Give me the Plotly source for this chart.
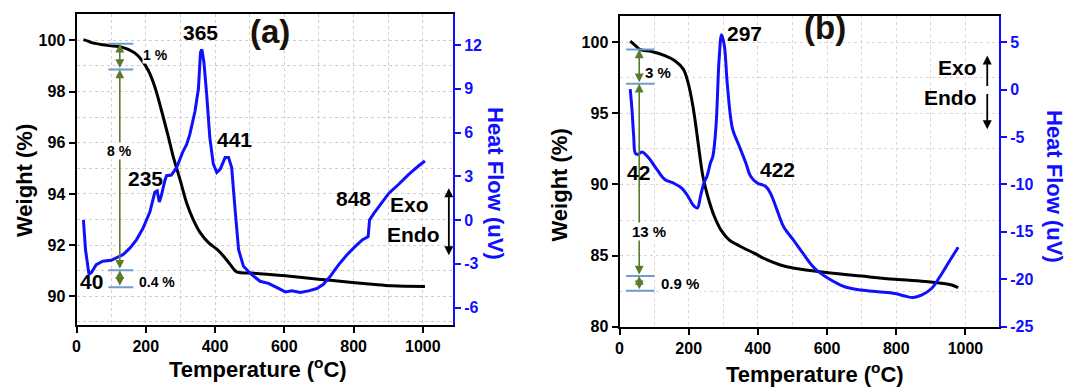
import plotly.graph_objects as go

W, H = 1067, 389

# ---------------- data: panel (a) ----------------
a_temp_w = [20, 33, 47, 76, 115, 144, 168, 187, 207, 226, 245, 265, 279, 299, 318, 337, 357,
            381, 405, 424, 443, 458, 468, 506, 603, 699, 796, 854, 911, 1006]
a_weight = [100.03, 99.97, 99.9, 99.83, 99.77, 99.68, 99.51, 99.25, 98.83, 98.19, 97.28, 96.24,
            95.47, 94.56, 93.65, 93.0, 92.49, 92.1, 91.84, 91.58, 91.26, 91.0, 90.93, 90.91,
            90.8, 90.67, 90.54, 90.47, 90.41, 90.38]
a_temp_h = [20, 26, 36, 43, 57, 76, 100, 115, 134, 154, 173, 192, 212, 226, 233, 239, 245, 255,
            260, 274, 289, 308, 318, 327, 342, 352, 358, 362, 368, 376, 385, 395, 405, 415, 429,
            439, 448, 458, 468, 482, 506, 530, 554, 579, 603, 622, 646, 670, 694, 713, 733, 757,
            781, 805, 825, 842, 846, 858, 882, 902, 931, 960, 988, 1006]
a_heat = [0.0, -2.04, -3.73, -3.6, -3.06, -2.83, -2.76, -2.6, -2.38, -1.93, -1.36, -0.57, 0.56,
          1.9, 2.0, 1.23, 1.68, 2.7, 3.04, 3.08, 3.6, 4.73, 5.18, 5.86, 7.44, 9.0, 11.5, 11.7,
          10.8, 8.57, 5.63, 3.83, 3.26, 3.49, 4.28, 4.28, 3.6, 0.67, -2.04, -3.17, -3.75, -4.2,
          -4.34, -4.64, -4.93, -4.86, -4.97, -4.86, -4.70, -4.41, -3.85, -3.06, -2.38, -1.81,
          -1.36, -1.14, 0.0, 0.44, 1.23, 1.84, 2.47, 3.15, 3.72, 4.05]

# ---------------- data: panel (b) ----------------
b_temp_w = [31, 46, 60, 93, 131, 160, 184, 198, 212, 222, 231, 241, 255, 274, 293, 317, 350,
            389, 427, 465, 506, 603, 699, 796, 892, 931, 960, 979]
b_weight = [100.07, 99.76, 99.48, 99.34, 99.06, 98.7, 98.12, 97.17, 95.53, 93.88, 92.23, 90.58,
            89.17, 87.76, 86.81, 86.11, 85.64, 85.17, 84.69, 84.34, 84.11, 83.8, 83.56, 83.33,
            83.16, 83.05, 82.93, 82.74]
b_temp_h = [31, 36, 41, 46, 53, 65, 84, 108, 131, 155, 179, 198, 212, 225, 234, 244, 253, 263,
            270, 279, 288, 295, 303, 312, 327, 346, 365, 379, 398, 422, 436, 455, 474, 506, 530,
            564, 603, 651, 699, 747, 796, 825, 849, 873, 902, 926, 950, 979]
b_heat = [0.05, -2.06, -4.89, -6.73, -6.83, -6.59, -7.19, -8.42, -9.48, -9.84, -10.37, -11.25,
          -12.13, -12.48, -11.25, -9.84, -9.13, -7.72, -7.01, -3.83, 3.23, 5.78, 4.65, 0.41,
          -4.18, -5.95, -7.72, -9.13, -9.84, -10.19, -10.9, -12.66, -14.43, -16.02, -17.25,
          -18.84, -19.9, -20.79, -21.14, -21.32, -21.5, -21.77, -21.92, -21.67, -20.97, -19.73,
          -18.31, -16.62]

# ---------------- ticks ----------------
x_ticks = [0, 200, 400, 600, 800, 1000]
a_left_ticks = [90, 92, 94, 96, 98, 100]
a_right_ticks = [-6, -3, 0, 3, 6, 9, 12]
b_left_ticks = [80, 85, 90, 95, 100]
b_right_ticks = [-25, -20, -15, -10, -5, 0, 5]

# ---------------- annotations ----------------
a_peak_text = ["40", "235", "365", "441", "848"]
a_peak_x = [42, 200, 358, 455, 801]
a_peak_y = [90.57, 94.62, 100.32, 96.11, 93.83]
b_peak_text = ["42", "297", "422"]
b_peak_x = [56, 362, 458]
b_peak_y = [90.82, 100.59, 91.05]

a_levels = [99.87, 98.86, 91.02, 90.35]
a_level_x = [92, 164]
a_arrow_x = 125
a_step_text = ["1 %", "8 %", "0.4 %"]
a_step_x = [229, 123, 233]
a_step_y = [99.42, 95.66, 90.57]

b_levels = [99.48, 97.08, 83.56, 82.53]
b_level_x = [19, 101]
b_arrow_x = 57
b_step_text = ["3 %", "13 %", "0.9 %"]
b_step_x = [110, 86, 174]
b_step_y = [97.88, 86.7, 83.05]

FONT = "Liberation Sans, Arial, sans-serif"
BLUE = "#1010ff"
GREEN = "#5b7a2c"
STEEL = "#6f9bd0"

# panel pixel boxes
A = dict(x0=76.5, x1=453, y0=14, y1=325)
B = dict(x0=619.5, x1=999, y0=16, y1=326.7)


def xd(p):
    return [p["x0"] / W, p["x1"] / W]


def yd(p):
    return [1 - p["y1"] / H, 1 - p["y0"] / H]


fig = go.Figure()
fig.add_trace(go.Scatter(x=a_temp_w, y=a_weight, mode="lines", line=dict(color="black", width=3),
                         xaxis="x", yaxis="y", line_shape="spline"))
fig.add_trace(go.Scatter(x=a_temp_h, y=a_heat, mode="lines", line=dict(color=BLUE, width=3),
                         xaxis="x", yaxis="y2"))
fig.add_trace(go.Scatter(x=b_temp_w, y=b_weight, mode="lines", line=dict(color="black", width=3),
                         xaxis="x2", yaxis="y3", line_shape="spline"))
fig.add_trace(go.Scatter(x=b_temp_h, y=b_heat, mode="lines", line=dict(color=BLUE, width=3),
                         xaxis="x2", yaxis="y4", line_shape="spline"))

tickfont_k = dict(family=FONT, size=16, color="black", weight="bold")
tickfont_b = dict(family=FONT, size=16, color=BLUE, weight="bold")


def xaxis(dom, rng, anchor, gridc):
    return dict(domain=dom, range=rng, anchor=anchor, tickmode="array", tickvals=x_ticks,
                ticktext=[str(v) for v in x_ticks], ticks="outside", ticklen=6, tickwidth=1.5,
                tickcolor="black", showline=True, linecolor="black", linewidth=2, mirror=True,
                showgrid=True, gridcolor=gridc, griddash="dot", gridwidth=1,
                minor=dict(dtick=100, showgrid=True, gridcolor=gridc, griddash="dot", ticks=""),
                tickfont=tickfont_k, zeroline=False, automargin=False)


def yleft(dom, rng, anchor, tv, dtick_minor, gridc):
    return dict(domain=dom, range=rng, anchor=anchor, tickmode="array", tickvals=tv,
                ticktext=[str(v) for v in tv], ticks="outside", ticklen=6, tickwidth=1.5,
                tickcolor="black", showline=True, linecolor="black", linewidth=2,
                showgrid=True, gridcolor=gridc, griddash="dot",
                minor=dict(dtick=dtick_minor, showgrid=True, gridcolor=gridc, griddash="dot", ticks=""),
                tickfont=tickfont_k, zeroline=False, automargin=False)


def yright(rng, anchor, overlay, tv):
    return dict(range=rng, anchor=anchor, overlaying=overlay, side="right", tickmode="array",
                tickvals=tv, ticktext=[str(v) for v in tv], ticks="outside", ticklen=6,
                tickwidth=1.5, tickcolor=BLUE, showline=True, linecolor=BLUE, linewidth=2,
                showgrid=False, tickfont=tickfont_b, zeroline=False, automargin=False)


fig.update_layout(
    width=W, height=H, margin=dict(l=0, r=0, t=0, b=0), showlegend=False,
    paper_bgcolor="white", plot_bgcolor="white",
    xaxis=xaxis(xd(A), [0, 1087], "y", "#cfcfcf"),
    yaxis=yleft(yd(A), [88.88, 101.03], "x", a_left_ticks, 1, "#cfcfcf"),
    yaxis2=yright([-7.2, 14.13], "x", "y", a_right_ticks),
    xaxis2=xaxis(xd(B), [0, 1097], "y3", "#e6d2d2"),
    yaxis3=yleft(yd(B), [80, 101.84], "x2", b_left_ticks, 2.5, "#e6d2d2"),
    yaxis4=yright([-25, 7.76], "x2", "y3", b_right_ticks),
)

ann = []
shapes = []


def txt(text, x, y, xref, yref, size, color="black", angle=0, bg=None, xanchor="center"):
    d = dict(text=text, x=x, y=y, xref=xref, yref=yref, showarrow=False, textangle=angle,
             xanchor=xanchor, yanchor="middle",
             font=dict(family=FONT, size=size, color=color, weight="bold"))
    if bg:
        d["bgcolor"] = bg
        d["borderpad"] = 0
    return d


def arrow(x, y_from, y_to, xr, yr, color, side="end", width=1.5, size=1.0):
    return dict(text="", x=x, y=y_to, ax=x, ay=y_from, xref=xr, yref=yr, axref=xr, ayref=yr,
                showarrow=True, arrowhead=2, arrowside=side, arrowsize=size, arrowwidth=width,
                arrowcolor=color, standoff=0, startstandoff=0)


def steps(levels, lx, ax_x, texts, tx, ty, xr, yr, size):
    for lv in levels:
        shapes.append(dict(type="line", xref=xr, yref=yr, x0=lx[0], x1=lx[1], y0=lv, y1=lv,
                           line=dict(color=STEEL, width=2)))
    for i in range(len(levels) - 1):
        ann.append(arrow(ax_x, levels[i + 1], levels[i], xr, yr, GREEN, side="end+start",
                         width=1.6, size=1.1))
    for t, x, y in zip(texts, tx, ty):
        ann.append(txt(t, x, y, xr, yr, size, bg="white"))


steps(a_levels, a_level_x, a_arrow_x, a_step_text, a_step_x, a_step_y, "x", "y", 14)
steps(b_levels, b_level_x, b_arrow_x, b_step_text, b_step_x, b_step_y, "x2", "y3", 15)

for t, x, y in zip(a_peak_text, a_peak_x, a_peak_y):
    ann.append(txt(t, x, y, "x", "y", 21))
for t, x, y in zip(b_peak_text, b_peak_x, b_peak_y):
    ann.append(txt(t, x, y, "x2", "y3", 21))

# panel labels
ann.append(txt("(a)", 560, 100.35, "x", "y", 33, color="#1a1208"))
ann.append(txt("(b)", 595, 101.0, "x2", "y3", 33, color="#1a1208"))

# Exo / Endo
ann.append(txt("Exo", 960, 93.57, "x", "y", 21))
ann.append(txt("Endo", 972, 92.4, "x", "y", 21))
ann.append(arrow(1075, 91.55, 94.22, "x", "y", "black", side="end+start", width=1.8))
ann.append(txt("Exo", 978, 98.23, "x2", "y3", 21))
ann.append(txt("Endo", 956, 96.12, "x2", "y3", 21))
ann.append(arrow(1063, 96.82, 99.06, "x2", "y3", "black", width=1.8))
ann.append(arrow(1063, 96.47, 93.88, "x2", "y3", "black", width=1.8))

# axis titles (paper coords from pixel positions)
def P(px, py):
    return px / W, 1 - py / H


for text, (px, py), ang, col in [
    ("Weight (%)", (24, 181), -90, "black"),
    ("Heat Flow (uV)", (496, 183), 90, BLUE),
    ("Temperature (<sup>o</sup>C)", (258, 368), 0, "black"),
    ("Weight (%)", (559.5, 185), -90, "black"),
    ("Heat Flow (uV)", (1055, 186), 90, BLUE),
    ("Temperature (<sup>o</sup>C)", (815, 373), 0, "black"),
]:
    x, y = P(px, py)
    ann.append(txt(text, x, y, "paper", "paper", 22, color=col, angle=ang))

fig.update_layout(annotations=ann, shapes=shapes)
fig.write_html("out.html")
